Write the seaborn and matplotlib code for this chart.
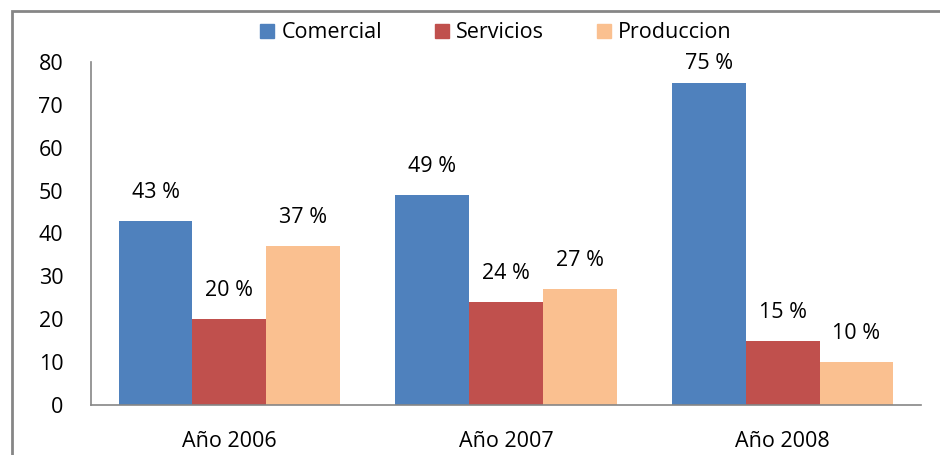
import pandas as pd
import matplotlib.pyplot as plt
import seaborn as sns
from matplotlib.patches import Rectangle

years = ['Año 2006', 'Año 2007', 'Año 2008']
series = ['Comercial', 'Servicios', 'Produccion']
comercial = [43, 49, 75]
servicios = [20, 24, 15]
produccion = [37, 27, 10]
colors = ['#4F81BD', '#C0504D', '#FAC090']

df = pd.DataFrame({
    'Año': years * 3,
    'Sector': [s for s in series for _ in years],
    'Valor': comercial + servicios + produccion,
})

sns.set_style('white')
plt.rcParams['font.family'] = ['Open Sans', 'DejaVu Sans']
plt.rcParams['text.color'] = 'black'
plt.rcParams['xtick.color'] = 'black'
plt.rcParams['ytick.color'] = 'black'

fig = plt.figure(figsize=(9.4, 4.55), dpi=100)
ax = fig.add_axes([91 / 940, 1 - 405 / 455, 830 / 940, 343 / 455])

sns.barplot(data=df, x='Año', y='Valor', hue='Sector', palette=colors,
            width=0.8, saturation=1, linewidth=0, ax=ax, legend=False)

# Percentage labels above each bar (squeezed closer near the top of the plot)
for container in ax.containers:
    for bar, v in zip(container, container.datavalues):
        pad = 7 if v > 70 else 13
        ax.annotate(f'{v:.0f} %', (bar.get_x() + bar.get_width() / 2, v),
                    xytext=(0, pad), textcoords='offset points',
                    ha='center', va='bottom', fontsize=15.5, color='black')

ax.set_ylim(0, 80)
ax.set_xlim(-0.5, 2.5)
ax.set_yticks(range(0, 81, 10))
ax.tick_params(axis='both', length=0, labelsize=15.5)
ax.tick_params(axis='y', pad=20)
ax.tick_params(axis='x', pad=19)
ax.set_xlabel('')
ax.set_ylabel('')
for side in ['top', 'right']:
    ax.spines[side].set_visible(False)
for side in ['left', 'bottom']:
    ax.spines[side].set_color('#868686')
    ax.spines[side].set_linewidth(1.2)

# Legend at top center
handles = [Rectangle((0, 0), 1, 1, color=c) for c in colors]
fig.legend(handles, series, loc='center', bbox_to_anchor=(496 / 940, 1 - 33 / 455),
           ncol=3, frameon=False, fontsize=15.5, handlelength=0.65, handleheight=0.65,
           handletextpad=0.33, columnspacing=2.45)

# Chart border (extends beyond the image on right and bottom)
fig.patches.append(Rectangle((12 / 940, -0.1), 1.1, 1 - 11 / 455 + 0.1,
                             transform=fig.transFigure, fill=False,
                             edgecolor='#868686', linewidth=2))

fig.savefig('out.png', dpi=100)
